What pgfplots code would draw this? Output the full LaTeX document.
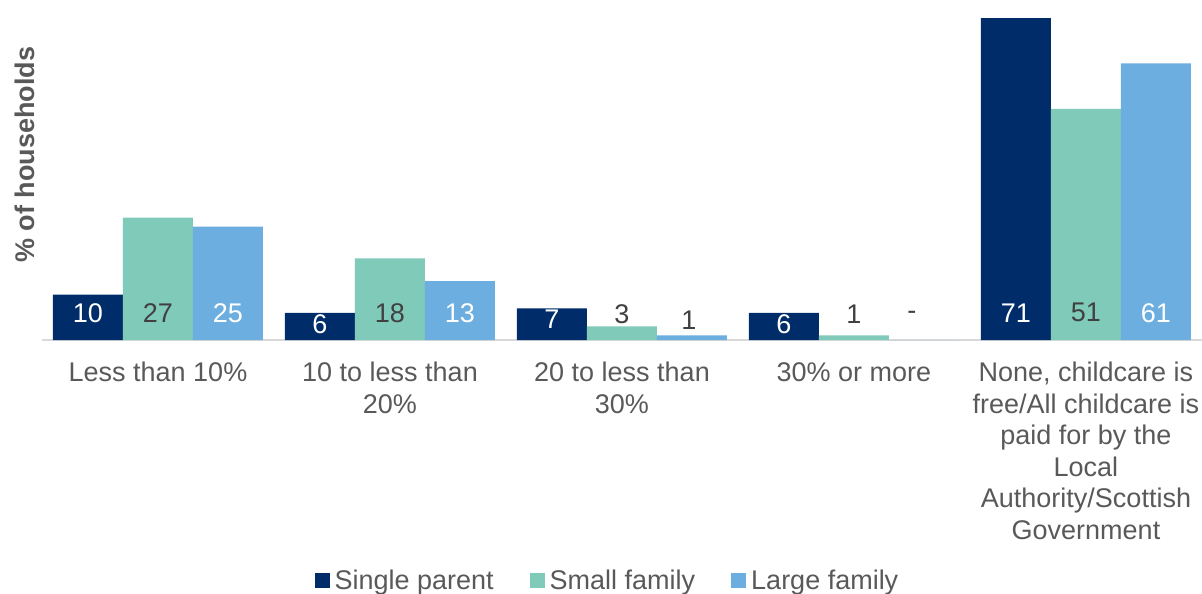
\documentclass[border=0pt]{standalone}
\usepackage{fontspec}
\setmainfont{Liberation Sans}
\usepackage{pgfplots}
\usepackage{pgfplotstable}
\pgfplotsset{compat=1.18}
\definecolor{navy}{HTML}{002D6A}
\definecolor{tealc}{HTML}{80CABA}
\definecolor{lblue}{HTML}{6CAEE0}
\definecolor{txt}{HTML}{595959}
\definecolor{dtxt}{HTML}{404040}
\definecolor{axgray}{HTML}{D9D9D9}

\pgfplotstableread{
x y ly lx lab wc
0 10 6 0 10 100
1 6 3.5 0 6 100
2 7 4.6 0 7 100
3 6 3.5 0 6 100
4 71 6 0 71 100
}\tsingle
\pgfplotstableread{
x y ly lx lab wc
0 27 6 0 27 0
1 18 6 0 18 0
2 3 5.7 0 3 0
3 1 5.7 0 1 0
4 51 6 0 51 0
}\tsmall
\pgfplotstableread{
x y ly lx lab wc
0 25 6 0 25 100
1 13 6 0 13 100
2 1 4.4 -3 1 0
3 0 5.5 -12 - 0
4 61 6 0 61 100
}\tlarge

\pgfplotsset{sq/.style={legend image code/.code={\path[##1, draw=none] (0pt,-7.5pt) rectangle (15pt,7.5pt); \path (20pt,0pt);}}}

\begin{document}
\begin{tikzpicture}
\useasboundingbox (-42pt,-254pt) rectangle (1160pt,340pt);
\begin{axis}[
  at={(0pt,0pt)}, anchor=south west,
  scale only axis, width=1160pt, height=340pt,
  xmin=-0.5, xmax=4.5, ymin=0, ymax=75,
  ybar=0pt, bar width=70pt,
  axis x line*=bottom, axis y line*=left,
  x axis line style={draw=axgray, line width=1.3pt, -},
  y axis line style={draw=none},
  xtick={0,1,2,3,4},
  xticklabels={Less than 10\%, {10 to less than\\20\%}, {20 to less than\\30\%}, 30\% or more, {None, childcare is\\free/All childcare is\\paid for by the\\Local\\Authority/Scottish\\Government}},
  xtick style={draw=none}, ytick=\empty,
  major tick length=0pt,
  xticklabel style={align=center, anchor=north, inner sep=0pt, yshift=-22pt, text=txt, font=\fontsize{27}{31.5}\selectfont},
  ylabel={\% of households},
  ylabel style={at={(axis description cs:-0.0147,0.545)}, anchor=center, text=txt, font=\fontsize{27}{32}\selectfont\bfseries},
  nodes near coords, point meta=explicit symbolic,
  visualization depends on={rawy \as \ry},
  visualization depends on={\thisrow{ly} \as \ly},
  visualization depends on={\thisrow{lx} \as \lx},
  visualization depends on={\thisrow{wc} \as \lc},
  nodes near coords style={anchor=center, inner sep=0pt, text=white!\lc!dtxt, font=\fontsize{27}{32}\selectfont, yshift={(\ly-\ry)*4.53333pt}, xshift={\lx*1pt}},
  legend style={at={(axis description cs:0.4866,-0.706)}, anchor=center, draw=none, fill=none, legend columns=3, font=\fontsize{27}{32}\selectfont, text=txt, /tikz/every even column/.append style={column sep=36pt}, nodes={inner sep=0pt}},
  legend cell align=left,
]
\addplot[sq, fill=navy, draw=none] table[x=x, y=y, meta=lab] {\tsingle};
\addplot[sq, fill=tealc, draw=none] table[x=x, y=y, meta=lab] {\tsmall};
\addplot[sq, fill=lblue, draw=none] table[x=x, y=y, meta=lab] {\tlarge};
\legend{Single parent, Small family, Large family}
\end{axis}
\end{tikzpicture}
\end{document}
